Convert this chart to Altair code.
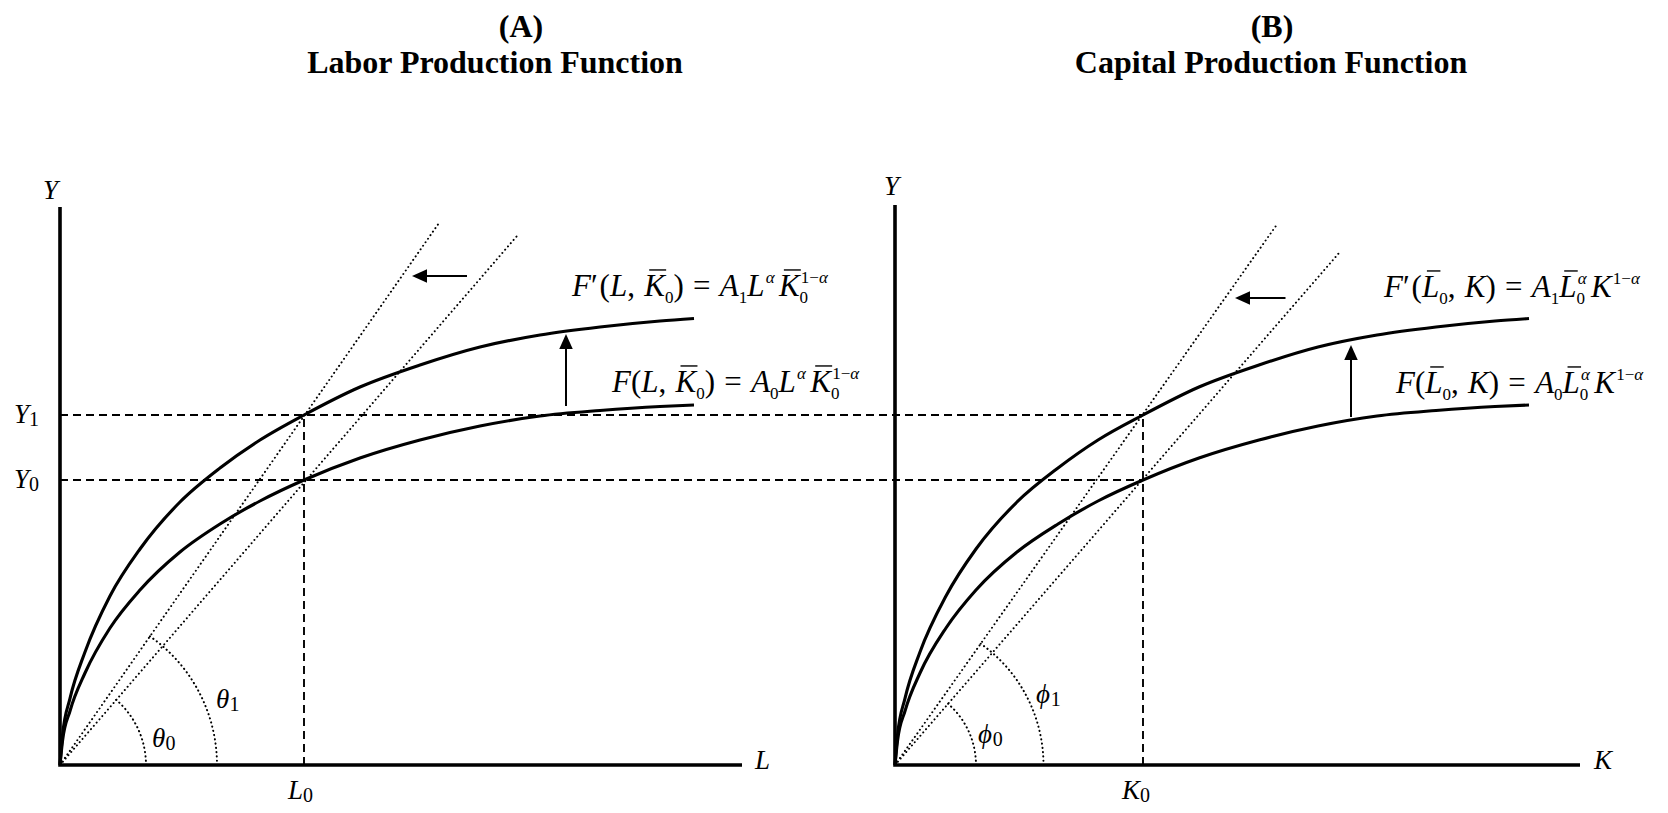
import math
import altair as alt
import pandas as pd

# ---------------- values (1 unit = 10 px) ----------------
PANEL_B_X = 83.5                 # origin of panel B on the shared horizontal scale
A_X_END, A_Y_END = 68.2, 55.8    # axis lengths, panel A
B_X_END, B_Y_END = 68.5, 56.0    # axis lengths, panel B

Y1, Y0 = 35.0, 28.5
L0, K0 = 24.4, 24.8

# Panel A: F'(L) (upper) and F(L) (lower)
A_L = [0, 0.25, 1, 2.5, 5, 8, 12, 16, 20, 24.4, 30, 36, 42, 48, 54, 60, 63.4]
A_UP_Y = [0, 2.97, 6.66, 11.3, 16.9, 21.6, 26.3, 29.7, 32.5, 35.0, 37.8, 40.0, 41.8, 43.0, 43.8, 44.4, 44.65]
A_LO_Y = [0, 2.4, 5.4, 9.2, 13.7, 17.5, 21.3, 24.1, 26.4, 28.5, 30.7, 32.5, 33.9, 34.9, 35.45, 35.85, 36.0]
# Panel B: F'(K) (upper) and F(K) (lower)
B_K = [0, 0.25, 1, 2.5, 5.1, 8.1, 12.2, 16.3, 20.3, 24.8, 30.4, 36.4, 42.3, 48.2, 54.1, 60.0, 63.4]
B_UP_Y = [0, 2.97, 6.66, 11.3, 16.9, 21.6, 26.3, 29.7, 32.5, 35.0, 37.8, 40.0, 41.8, 43.0, 43.8, 44.4, 44.65]
B_LO_Y = [0, 2.4, 5.4, 9.2, 13.7, 17.5, 21.3, 24.1, 26.4, 28.5, 30.7, 32.5, 33.9, 34.9, 35.45, 35.85, 36.0]

# dotted rays from the origin (end points): [new (steeper), old]
A_RAY_L = [37.9, 45.7]
A_RAY_Y = [54.2, 52.9]
B_RAY_K = [38.3, 44.4]
B_RAY_Y = [54.2, 51.2]
# angle-arc radii: [new, old]
A_ARC_R = [15.7, 8.6]
B_ARC_R = [14.85, 8.1]

# arrows (absolute positions): tail -> tip
ARROW_TAIL_X = [40.7, 50.6, PANEL_B_X + 39.05, PANEL_B_X + 45.6]
ARROW_TAIL_Y = [48.9, 35.9, 46.7, 34.8]
ARROW_TIP_X = [35.2, 50.6, PANEL_B_X + 34.0, PANEL_B_X + 45.6]
ARROW_TIP_Y = [48.9, 43.1, 46.7, 42.0]

TITLE_TOP = ["(A)", "(B)"]
TITLE_TOP_X = [46.1, 121.2]
TITLE_BOTTOM = ["Labor Production Function", "Capital Production Function"]
TITLE_BOTTOM_X = [43.5, 121.1]
TITLE_Y = [72.84, 69.25]

# ---------------- chart geometry ----------------
PX = 10.0
W, H = 1652, 797
X_MIN = -5.2
Y_MAX = 75.7
xs = alt.Scale(domain=[X_MIN, X_MIN + W / PX], nice=False, zero=False)
ys = alt.Scale(domain=[Y_MAX - H / PX, Y_MAX], nice=False, zero=False)
FONT = "Liberation Serif"


def X(f="x"):
    return alt.X(f"{f}:Q", scale=xs, axis=None)


def Y(f="y"):
    return alt.Y(f"{f}:Q", scale=ys, axis=None)


layers = []

# axes (L-shaped polylines)
axes_rows = []
for pid, ox, xe, ye in [("A", 0.0, A_X_END, A_Y_END), ("B", PANEL_B_X, B_X_END, B_Y_END)]:
    axes_rows += [dict(p=pid, o=0, x=ox, y=ye), dict(p=pid, o=1, x=ox, y=0.0),
                  dict(p=pid, o=2, x=ox + xe, y=0.0)]
layers.append(alt.Chart(pd.DataFrame(axes_rows)).mark_line(
    color="black", strokeWidth=3.6, strokeJoin="miter", strokeCap="butt").encode(
    x=X(), y=Y(), detail="p:N", order="o:Q"))

# production curves
curve_rows = []
for cid, xs_, ys_, off in [("A1", A_L, A_UP_Y, 0.0), ("A0", A_L, A_LO_Y, 0.0),
                           ("B1", B_K, B_UP_Y, PANEL_B_X), ("B0", B_K, B_LO_Y, PANEL_B_X)]:
    curve_rows += [dict(c=cid, x=a + off, y=b) for a, b in zip(xs_, ys_)]
layers.append(alt.Chart(pd.DataFrame(curve_rows)).mark_line(
    color="black", strokeWidth=3.1, interpolate="monotone", strokeCap="butt").encode(
    x=X(), y=Y(), detail="c:N"))

# dashed guide lines
dash_rows = [dict(x=0.0, y=Y1, x2=PANEL_B_X + K0, y2=Y1),
             dict(x=0.0, y=Y0, x2=PANEL_B_X + K0, y2=Y0),
             dict(x=L0, y=0.0, x2=L0, y2=Y1),
             dict(x=PANEL_B_X + K0, y=0.0, x2=PANEL_B_X + K0, y2=Y1)]
layers.append(alt.Chart(pd.DataFrame(dash_rows)).mark_rule(
    color="black", strokeWidth=1.9, strokeDash=[8, 5]).encode(
    x=X(), y=Y(), x2=alt.X2("x2:Q"), y2=alt.Y2("y2:Q")))

# dotted rays
ray_rows = [dict(x=0.0, y=0.0, x2=a, y2=b) for a, b in zip(A_RAY_L, A_RAY_Y)]
ray_rows += [dict(x=PANEL_B_X, y=0.0, x2=PANEL_B_X + a, y2=b) for a, b in zip(B_RAY_K, B_RAY_Y)]
layers.append(alt.Chart(pd.DataFrame(ray_rows)).mark_rule(
    color="black", strokeWidth=2.0, strokeDash=[0.01, 4.3], strokeCap="round").encode(
    x=X(), y=Y(), x2=alt.X2("x2:Q"), y2=alt.Y2("y2:Q")))

# dotted angle arcs
theta_scale = alt.Scale(domain=[0, 360], range=[0, 2 * math.pi])
radius_scale = alt.Scale(type="linear", domain=[0, 10], range=[0, 10 * PX], zero=True)
for ox, rx, ry, rr in [(0.0, A_RAY_L, A_RAY_Y, A_ARC_R), (PANEL_B_X, B_RAY_K, B_RAY_Y, B_ARC_R)]:
    for i in range(2):
        ang = math.degrees(math.atan2(ry[i], rx[i]))
        length = rr[i] * PX * math.radians(ang)
        n = max(1, round(length / 4.3))
        period = length / n
        df = pd.DataFrame([dict(x=ox, y=0.0, t0=90 - ang, t1=90.0, r=rr[i])])
        layers.append(alt.Chart(df).mark_arc(
            filled=False, color="black", strokeWidth=2.0,
            strokeDash=[0.01, period - 0.01], strokeCap="round").encode(
            x=X(), y=Y(),
            theta=alt.Theta("t0:Q", scale=theta_scale), theta2=alt.Theta2("t1:Q"),
            radius=alt.Radius("r:Q", scale=radius_scale), radius2=alt.Radius2("r:Q")))

# arrows
shaft_rows, head_left, head_up = [], [], []
for tx, ty, hx, hy in zip(ARROW_TAIL_X, ARROW_TAIL_Y, ARROW_TIP_X, ARROW_TIP_Y):
    d = math.hypot(hx - tx, hy - ty)
    ux, uy = (hx - tx) / d, (hy - ty) / d
    shaft_rows.append(dict(x=tx, y=ty, x2=hx - ux * 1.2, y2=hy - uy * 1.2))
    row = dict(x=hx - ux * 0.75, y=hy - uy * 0.75)
    (head_left if abs(ux) > abs(uy) else head_up).append(row)
layers.append(alt.Chart(pd.DataFrame(shaft_rows)).mark_rule(
    color="black", strokeWidth=2.0).encode(
    x=X(), y=Y(), x2=alt.X2("x2:Q"), y2=alt.Y2("y2:Q")))
layers.append(alt.Chart(pd.DataFrame(head_left)).mark_point(
    shape="M-1,0L1,-0.9L1,0.9Z", size=225, filled=True, color="black", opacity=1,
    strokeWidth=0).encode(x=X(), y=Y()))
layers.append(alt.Chart(pd.DataFrame(head_up)).mark_point(
    shape="M0,-1L0.9,1L-0.9,1Z", size=225, filled=True, color="black", opacity=1,
    strokeWidth=0).encode(x=X(), y=Y()))

# ---------------- math-style text ----------------
EM_I = {"F": 0.611, "L": 0.556, "K": 0.667, "A": 0.611, "Y": 0.556,
        "θ": 0.5, "ϕ": 0.55, "α": 0.52}
EM_R = {"(": 0.333, ")": 0.333, ",": 0.25, "=": 0.564, "0": 0.5, "1": 0.5,
        "−": 0.564, "′": 0.28, " ": 0.25}


def width(text, italic, size):
    tab = EM_I if italic else EM_R
    return sum(tab.get(c, EM_R.get(c, EM_I.get(c, 0.5))) for c in text) * size


def typeset(tokens, x0, y0, size, ssize, drop, rise):
    rows, bars = [], []
    cx = 0.0

    def put(text, italic, fs, dx, dy):
        rows.append(dict(x=x0 + dx / PX, y=y0 + dy / PX, t=text, fs=fs, it=italic))

    for tok in tokens:
        k = tok[0]
        if k in ("i", "r", "b"):
            it = k != "r"
            put(tok[1], it, size, cx, 0.0)
            w = width(tok[1], it, size)
            if k == "b":
                bars.append(dict(x=x0 + (cx + 0.16 * size) / PX,
                                 x2=x0 + (cx + w + 0.04 * size) / PX,
                                 y=y0 + 0.84 * size / PX))
            cx += w
        elif k == "sp":
            cx += tok[1] * size
        elif k == "sub":
            put(tok[1], False, ssize, cx, -drop * size)
            cx += width(tok[1], False, ssize)
        elif k in ("sup", "ss"):
            end = cx
            if k == "ss":
                put(tok[1], False, ssize, cx, -drop * size)
                end = cx + width(tok[1], False, ssize)
            sx = cx + 0.04 * size
            for st, tx in tok[-1]:
                put(tx, st == "i", ssize, sx, rise * size)
                sx += width(tx, st == "i", ssize)
            cx = max(end, sx)
    return rows, bars


SUP_EXP = [("r", "1−"), ("i", "α")]
FORMULAS = [
    ([("i", "F"), ("r", "′"), ("r", "("), ("i", "L"), ("r", ","), ("sp", 0.3), ("b", "K"),
      ("sub", "0"), ("r", ")"), ("sp", 0.3), ("r", "="), ("sp", 0.3), ("i", "A"), ("sub", "1"),
      ("i", "L"), ("sup", [("i", "α")]), ("sp", 0.14), ("b", "K"), ("ss", "0", SUP_EXP)],
     51.2, 46.9),
    ([("i", "F"), ("r", "("), ("i", "L"), ("r", ","), ("sp", 0.3), ("b", "K"),
      ("sub", "0"), ("r", ")"), ("sp", 0.3), ("r", "="), ("sp", 0.3), ("i", "A"), ("sub", "0"),
      ("i", "L"), ("sup", [("i", "α")]), ("sp", 0.14), ("b", "K"), ("ss", "0", SUP_EXP)],
     55.2, 37.3),
    ([("i", "F"), ("r", "′"), ("r", "("), ("b", "L"), ("sub", "0"), ("r", ","), ("sp", 0.3),
      ("i", "K"), ("r", ")"), ("sp", 0.3), ("r", "="), ("sp", 0.3), ("i", "A"), ("sub", "1"),
      ("b", "L"), ("ss", "0", [("i", "α")]), ("sp", 0.14), ("i", "K"), ("sup", SUP_EXP)],
     132.4, 46.8),
    ([("i", "F"), ("r", "("), ("b", "L"), ("sub", "0"), ("r", ","), ("sp", 0.3),
      ("i", "K"), ("r", ")"), ("sp", 0.3), ("r", "="), ("sp", 0.3), ("i", "A"), ("sub", "0"),
      ("b", "L"), ("ss", "0", [("i", "α")]), ("sp", 0.14), ("i", "K"), ("sup", SUP_EXP)],
     133.6, 37.2),
]
LABELS = [
    ([("i", "Y")], -1.7, 56.6),
    ([("i", "Y")], 82.4, 57.0),
    ([("i", "L")], 69.5, -0.4),
    ([("i", "K")], 153.4, -0.4),
    ([("i", "Y"), ("sub", "1")], -4.6, 34.2),
    ([("i", "Y"), ("sub", "0")], -4.6, 27.7),
    ([("i", "L"), ("sub", "0")], 22.8, -3.4),
    ([("i", "K"), ("sub", "0")], 106.2, -3.4),
    ([("i", "θ"), ("sub", "0")], 9.2, 1.8),
    ([("i", "θ"), ("sub", "1")], 15.6, 5.7),
    ([("i", "ϕ"), ("sub", "0")], 91.8, 2.2),
    ([("i", "ϕ"), ("sub", "1")], 97.6, 6.2),
]

text_rows, bar_rows = [], []
for toks, x0, y0 in FORMULAS:
    r, b = typeset(toks, x0, y0, 31, 17, 0.24, 0.42)
    text_rows += r
    bar_rows += b
for toks, x0, y0 in LABELS:
    r, b = typeset(toks, x0, y0, 27, 20, 0.1, 0.42)
    text_rows += r
    bar_rows += b

tdf = pd.DataFrame(text_rows)
for italic in (True, False):
    sub = tdf[tdf["it"] == italic].drop(columns=["it"])
    mk = dict(font=FONT, align="left", baseline="alphabetic", color="black")
    if italic:
        mk["fontStyle"] = "italic"
    layers.append(alt.Chart(sub).mark_text(**mk).encode(
        x=X(), y=Y(), text="t:N", size=alt.Size("fs:Q", scale=None)))

layers.append(alt.Chart(pd.DataFrame(bar_rows)).mark_rule(
    color="black", strokeWidth=1.4).encode(x=X(), y=Y(), x2=alt.X2("x2:Q")))

# titles
title_rows = [dict(x=x, y=TITLE_Y[0], t=t) for x, t in zip(TITLE_TOP_X, TITLE_TOP)]
title_rows += [dict(x=x, y=TITLE_Y[1], t=t) for x, t in zip(TITLE_BOTTOM_X, TITLE_BOTTOM)]
layers.append(alt.Chart(pd.DataFrame(title_rows)).mark_text(
    font=FONT, fontWeight="bold", fontSize=32, align="center", baseline="alphabetic",
    color="black").encode(x=X(), y=Y(), text="t:N"))

chart = alt.layer(*layers).properties(
    width=W, height=H, padding=0, autosize=alt.AutoSizeParams(type="none")
).configure_view(strokeWidth=0)

chart.save("out.html", embed_options={"renderer": "svg", "actions": False})
